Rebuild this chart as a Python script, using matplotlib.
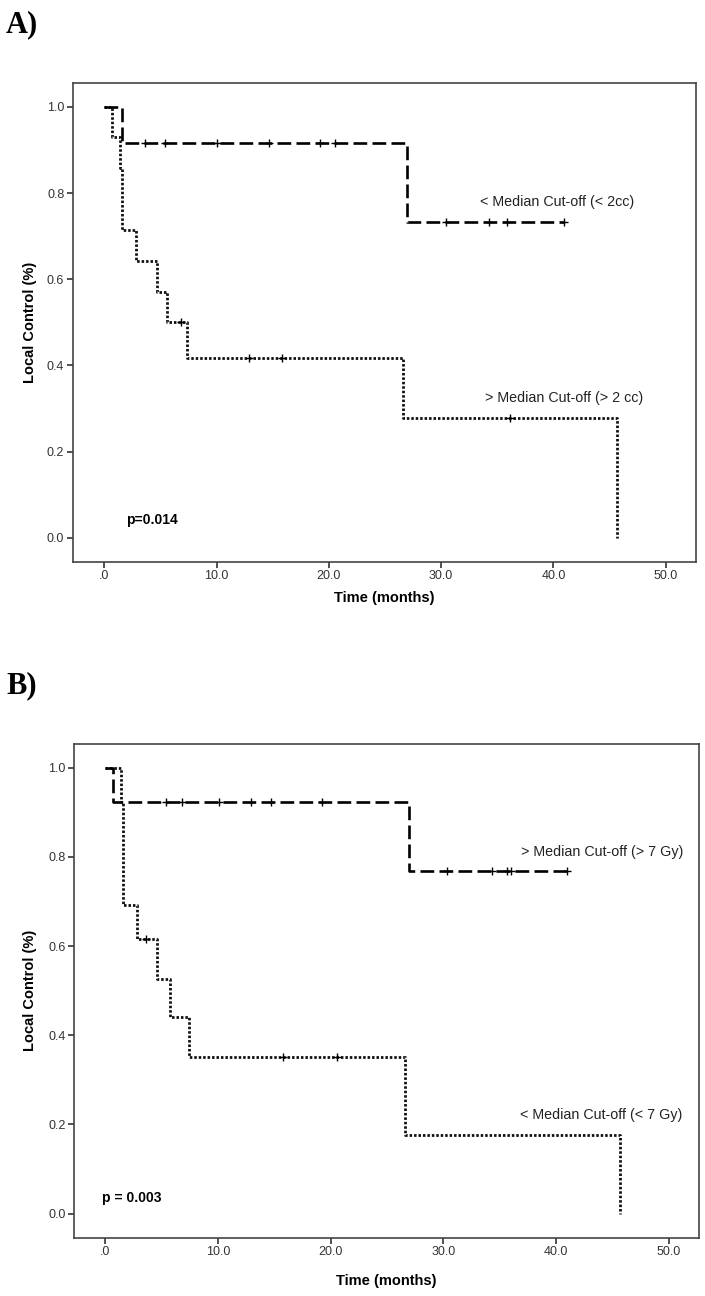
import numpy as np
import matplotlib
matplotlib.use('Agg')
import matplotlib.pyplot as plt

plt.rcParams['font.family'] = ['Liberation Sans', 'DejaVu Sans']

# x / y ticks (same for both panels)
x_ticks = [0, 10, 20, 30, 40, 50]
x_tick_labels = ['.0', '10.0', '20.0', '30.0', '40.0', '50.0']
y_ticks = [0.0, 0.2, 0.4, 0.6, 0.8, 1.0]
y_tick_labels = ['0.0', '0.2', '0.4', '0.6', '0.8', '1.0']

# panel A: volume cut-off
a_low_drop = [1.6, 27.0]
a_low_surv = [0.917, 0.733]
a_low_end = 40.9
a_low_cens = [3.6, 5.4, 10.0, 14.7, 19.2, 20.5, 30.4, 34.3, 35.9, 40.9]

a_high_drop = [0.7, 1.4, 1.55, 2.8, 4.7, 5.6, 7.4, 26.6, 45.7]
a_high_surv = [0.929, 0.857, 0.714, 0.643, 0.571, 0.5, 0.417, 0.278, 0.0]
a_high_end = 45.7
a_high_cens = [6.8, 12.9, 15.8, 36.1]

# panel B: dose cut-off
b_high_drop = [0.7, 27.0]
b_high_surv = [0.923, 0.769]
b_high_end = 41.0
b_high_cens = [5.4, 6.8, 10.1, 12.9, 14.7, 19.2, 30.3, 34.3, 35.7, 36.0, 41.0]

b_low_drop = [1.4, 1.6, 2.8, 4.6, 5.7, 7.4, 26.6, 45.7]
b_low_surv = [0.923, 0.692, 0.615, 0.527, 0.440, 0.352, 0.176, 0.0]
b_low_end = 45.7
b_low_cens = [3.6, 15.8, 20.6]

W, H = 705, 1296
fig = plt.figure(figsize=(W / 100, H / 100), dpi=100)

DASH = dict(color='black', lw=1.9, dashes=(5.2, 2.0), dash_capstyle='butt')
DOT = dict(color='#111111', lw=2.0, dashes=(0.9, 0.7), dash_capstyle='butt')


def km(ax, drops, surv, end, cens, style):
    xs = [0] + list(drops) + [end]
    ys = [1.0] + list(surv) + [surv[-1]]
    ax.step(xs, ys, where='post', **style)
    # value of the curve at each censor time
    idx = np.searchsorted(np.array(drops), np.array(cens), side='right')
    cy = np.array([1.0] + list(surv))[idx]
    ax.plot(cens, cy, '+', ms=6, mew=1.0, color='black', ls='none')


def style_axes(ax, xlim, ylim, ylab_x, xlab_y):
    ax.set_xlim(*xlim)
    ax.set_ylim(*ylim)
    ax.set_xticks(x_ticks)
    ax.set_xticklabels(x_tick_labels)
    ax.set_yticks(y_ticks)
    ax.set_yticklabels(y_tick_labels)
    ax.tick_params(direction='out', length=4, width=1.2, colors='#333333',
                   labelsize=9, pad=2)
    for s in ax.spines.values():
        s.set_color('#444444')
        s.set_linewidth(1.2)
    ax.set_ylabel('Local Control (%)', fontsize=10.5, fontweight='bold', va='center')
    ax.set_xlabel('Time (months)', fontsize=10.5, fontweight='bold', va='center')
    ax.yaxis.set_label_coords(ylab_x, 0.5)
    ax.xaxis.set_label_coords(0.5, xlab_y)


# ---- panel A
axA = fig.add_axes([72.7 / W, 1 - 562 / H, (696 - 72.7) / W, (562 - 82.7) / H])
km(axA, a_high_drop, a_high_surv, a_high_end, a_high_cens, DOT)
km(axA, a_low_drop, a_low_surv, a_low_end, a_low_cens, DASH)
style_axes(axA, (-2.82, 52.7), (-0.056, 1.056), -0.0685, -0.075)
axA.text(33.5, 0.78, '< Median Cut-off (< 2cc)', fontsize=10.3, va='center', color='#222222')
axA.text(33.9, 0.324, '> Median Cut-off (> 2 cc)', fontsize=10.3, va='center', color='#222222')
axA.text(1.93, 0.041, 'p=0.014', fontsize=10, fontweight='bold', va='center')

# ---- panel B
axB = fig.add_axes([74 / W, 1 - 1237.7 / H, 625 / W, 494 / H])
km(axB, b_low_drop, b_low_surv, b_low_end, b_low_cens, DOT)
km(axB, b_high_drop, b_high_surv, b_high_end, b_high_cens, DASH)
style_axes(axB, (-2.78, 52.7), (-0.054, 1.054), -0.070, -0.0877)
axB.text(36.9, 0.812, '> Median Cut-off (> 7 Gy)', fontsize=10.3, va='center', color='#222222')
axB.text(36.8, 0.221, '< Median Cut-off (< 7 Gy)', fontsize=10.3, va='center', color='#222222')
axB.text(-0.26, 0.035, 'p = 0.003', fontsize=10, fontweight='bold', va='center')

# panel letters
fig.text(6 / W, 1 - 32 / H, 'A)', fontsize=22, fontweight='bold',
         family=['Liberation Serif', 'DejaVu Serif'], va='baseline')
fig.text(6 / W, 1 - 693 / H, 'B)', fontsize=22, fontweight='bold',
         family=['Liberation Serif', 'DejaVu Serif'], va='baseline')

fig.savefig('out.png', dpi=100)
